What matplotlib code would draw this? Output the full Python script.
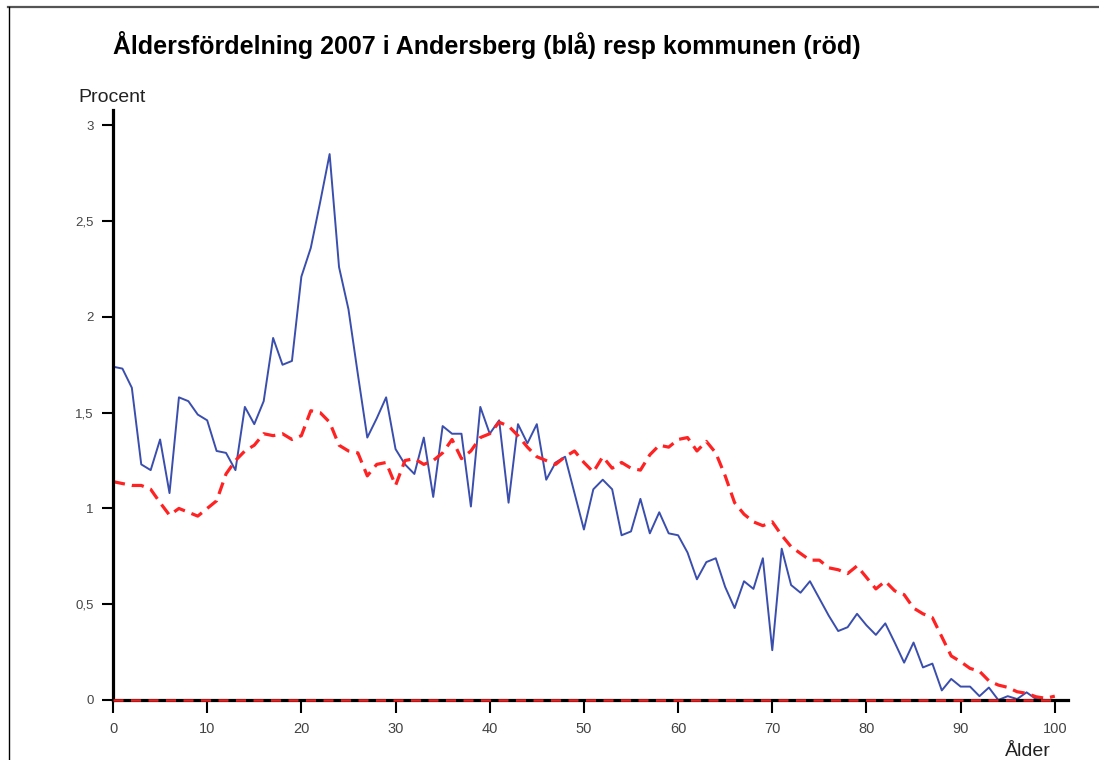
import numpy as np
import matplotlib
matplotlib.use("Agg")
import matplotlib.pyplot as plt
from matplotlib.lines import Line2D
from matplotlib.ticker import FuncFormatter

plt.rcParams['font.family'] = ['Liberation Sans', 'DejaVu Sans']

# Ålder 0..100
ages = np.arange(0, 101)

# Andersberg (blå), procent per ålder
andersberg = [
    1.74, 1.73, 1.63, 1.23, 1.20, 1.36, 1.08, 1.58, 1.56, 1.49,
    1.46, 1.30, 1.29, 1.20, 1.53, 1.44, 1.56, 1.89, 1.75, 1.77,
    2.21, 2.36, 2.60, 2.85, 2.26, 2.04, 1.70, 1.37, 1.47, 1.58,
    1.31, 1.23, 1.18, 1.37, 1.06, 1.43, 1.39, 1.39, 1.01, 1.53,
    1.39, 1.46, 1.03, 1.44, 1.34, 1.44, 1.15, 1.24, 1.27, 1.08,
    0.89, 1.10, 1.15, 1.10, 0.86, 0.88, 1.05, 0.87, 0.98, 0.87,
    0.86, 0.77, 0.63, 0.72, 0.74, 0.59, 0.48, 0.62, 0.58, 0.74,
    0.26, 0.79, 0.60, 0.56, 0.62, 0.53, 0.44, 0.36, 0.38, 0.45,
    0.39, 0.34, 0.40, 0.30, 0.195, 0.30, 0.17, 0.19, 0.05, 0.11,
    0.07, 0.07, 0.02, 0.065, 0.0, 0.02, 0.005, 0.04, 0.005, 0.0,
    0.0,
]

# Kommunen (röd), procent per ålder
kommunen = [
    1.14, 1.13, 1.12, 1.12, 1.10, 1.03, 0.965, 1.00, 0.98, 0.96,
    1.00, 1.04, 1.18, 1.25, 1.30, 1.33, 1.39, 1.38, 1.39, 1.36,
    1.38, 1.51, 1.50, 1.45, 1.33, 1.30, 1.29, 1.17, 1.23, 1.24,
    1.12, 1.25, 1.26, 1.23, 1.25, 1.29, 1.36, 1.26, 1.30, 1.37,
    1.39, 1.45, 1.43, 1.38, 1.32, 1.27, 1.25, 1.23, 1.27, 1.30,
    1.24, 1.19, 1.27, 1.21, 1.24, 1.21, 1.20, 1.28, 1.33, 1.32,
    1.36, 1.37, 1.30, 1.35, 1.29, 1.17, 1.03, 0.97, 0.93, 0.91,
    0.93, 0.86, 0.80, 0.765, 0.73, 0.73, 0.69, 0.68, 0.66, 0.70,
    0.64, 0.58, 0.62, 0.57, 0.55, 0.48, 0.45, 0.43, 0.33, 0.23,
    0.20, 0.165, 0.15, 0.10, 0.078, 0.066, 0.043, 0.035, 0.017, 0.009,
    0.02,
]

x_ticks = [0, 10, 20, 30, 40, 50, 60, 70, 80, 90, 100]
y_ticks = [0, 0.5, 1, 1.5, 2, 2.5, 3]

fig = plt.figure(figsize=(10.99, 7.6), dpi=100)
ax = fig.add_axes([113 / 1099, 60 / 760, 955 / 1099, 590 / 760])

ax.plot(ages, andersberg, color='#3a4ead', lw=1.4, zorder=3)
ax.plot(ages, kommunen, color='#ff2222', lw=2.3, dashes=(3.8, 2.2), zorder=4)
# baseline along zero in red dashes
ax.hlines(0, ages[0], ages[-1], color='#ee2020', lw=1.8, linestyles=(0, (4, 3)),
          zorder=6, clip_on=False)

ax.set_xlim(0, 101.4)
ax.set_ylim(0, 3.08)
ax.set_xticks(x_ticks)
ax.set_yticks(y_ticks)
ax.yaxis.set_major_formatter(FuncFormatter(lambda v, p: ('%g' % v).replace('.', ',')))

for s in ['top', 'right']:
    ax.spines[s].set_visible(False)
for s in ['left', 'bottom']:
    ax.spines[s].set_linewidth(2.3)
    ax.spines[s].set_color('black')
    ax.spines[s].set_zorder(5)

ax.tick_params(axis='x', length=9.5, width=1.5, pad=6, labelsize=10.5, labelcolor='#444444')
ax.tick_params(axis='y', length=8, width=1.5, pad=6, labelsize=9.5, labelcolor='#444444')

fig.text(113 / 1099, 1 - 45 / 760, 'Åldersfördelning 2007 i Andersberg (blå) resp kommunen (röd)',
         fontsize=18, fontweight='bold', ha='left', va='center')
fig.text(78 / 1099, 1 - 97 / 760, 'Procent', fontsize=14, ha='left', va='center', color='#222222')
fig.text(1005 / 1099, 1 - 752 / 760, 'Ålder', fontsize=14, ha='left', va='center', color='#222222')

# outer frame
fig.add_artist(Line2D([8 / 1099, 1], [1 - 6.5 / 760, 1 - 6.5 / 760], transform=fig.transFigure,
                      color='#555555', lw=1.6))
fig.add_artist(Line2D([9 / 1099, 9 / 1099], [0, 1 - 6.5 / 760], transform=fig.transFigure,
                      color='black', lw=1.0))

fig.savefig('out.png', dpi=100)
